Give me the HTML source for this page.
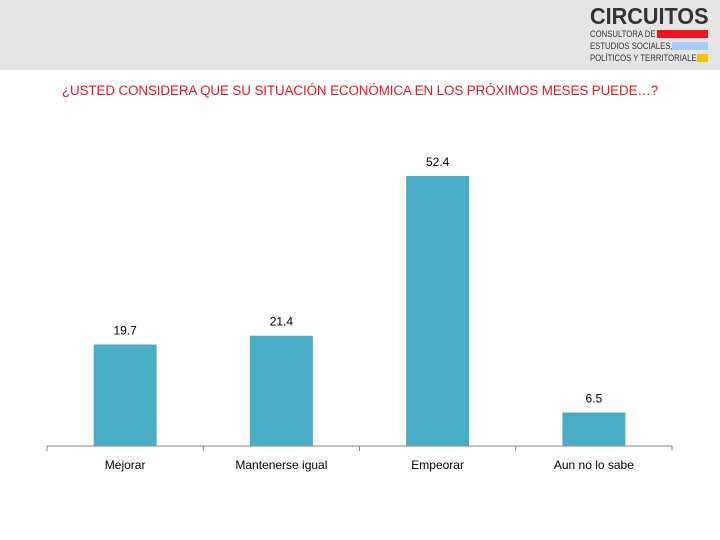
<!DOCTYPE html>
<html><head><meta charset="utf-8"><style>
body{margin:0;width:720px;height:540px;background:#fff;font-family:"Liberation Sans",sans-serif;position:relative;overflow:hidden}
#hdr{position:absolute;left:0;top:0;width:720px;height:70px;background:#e5e5e5}
.lt{position:absolute;left:590px;font-size:9px;color:#333;transform:scaleX(0.86);transform-origin:0 0;white-space:nowrap}
.bar{position:absolute;height:8px}
#title{position:absolute;left:0;top:83px;width:720px;text-align:center;color:#f0141e;font-size:13.4px;letter-spacing:-0.1px}
</style></head><body>
<div id="hdr"></div>
<div>
<div style="position:absolute;left:590px;top:4px;font-weight:bold;font-size:23px;color:#333;line-height:24px;transform:scaleX(0.94);transform-origin:0 0">CIRCUITOS</div>
<div class="lt" style="top:29px">CONSULTORA DE</div>
<div class="lt" style="top:41px">ESTUDIOS SOCIALES,</div>
<div class="lt" style="top:53px">POLÍTICOS Y TERRITORIALES</div>
<div class="bar" style="left:657px;top:30px;width:51px;background:#f5141e"></div>
<div class="bar" style="left:672px;top:42px;width:36px;background:#a8cef5"></div>
<div class="bar" style="left:697px;top:54px;width:11px;background:#f7c300"></div>
</div>
<div id="title">¿USTED CONSIDERA QUE SU SITUACIÓN ECONÓMICA EN LOS PRÓXIMOS MESES PUEDE…?</div>
<svg id="chart" width="720" height="540" style="position:absolute;left:0;top:0"></svg>
<script>
const categories=["Mejorar","Mantenerse igual","Empeorar","Aun no lo sabe"];
const values=[19.7,21.4,52.4,6.5];
const labels=["19.7","21.4","52.4","6.5"];
const svg=document.getElementById('chart');const ns='http://www.w3.org/2000/svg';
const x0=47,x1=672,base=446,k=270/52.4,bw=63;
const step=(x1-x0)/categories.length;
const y=v=>base-v*k;
function mk(t,a){const e=document.createElementNS(ns,t);for(const i in a)e.setAttribute(i,a[i]);svg.appendChild(e);return e;}
categories.forEach((c,i)=>{
 const cx=x0+step*(i+0.5);
 const r=mk('rect',{x:cx-bw/2,y:y(values[i]),width:bw,height:base-y(values[i]),fill:'#4bacc6'});
 
 
 const t=mk('text',{x:cx,y:y(values[i])-10,'text-anchor':'middle','font-size':12,fill:'#000'});
 t.textContent=labels[i];
 
 
 const l=mk('text',{x:cx,y:base+23,'text-anchor':'middle','font-size':12,fill:'#000'});
 l.textContent=c;
 
 
});
const ax=mk('line',{x1:x0,x2:x1,y1:base,y2:base,stroke:'#888','stroke-width':1});


for(let i=0;i<=categories.length;i++){const tk=mk('line',{x1:x0+step*i,x2:x0+step*i,y1:base,y2:base+5,stroke:'#888'});

}
</script>
</body></html>
